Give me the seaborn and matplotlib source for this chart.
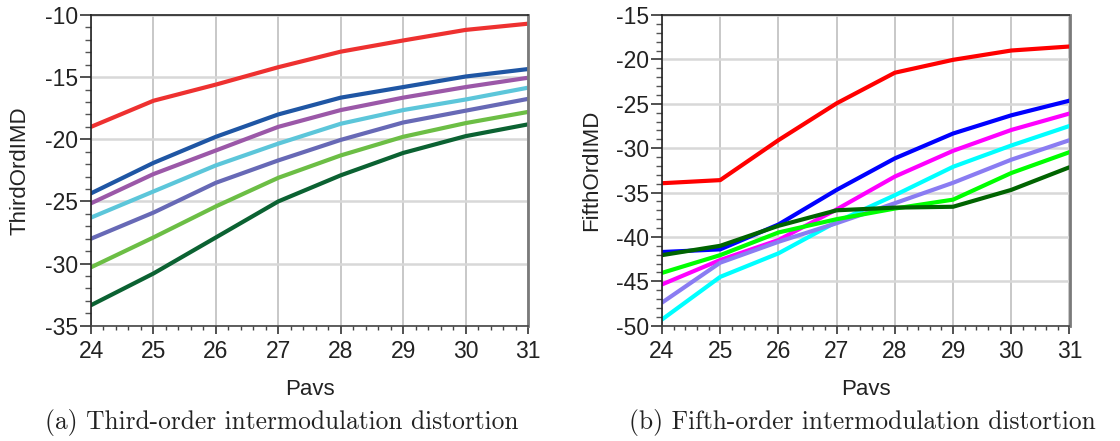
import numpy as np
import pandas as pd
import seaborn as sns
import matplotlib
matplotlib.use("Agg")
import matplotlib.pyplot as plt
from matplotlib.ticker import MultipleLocator

# Input power sweep (Pavs)
pavs = [24, 25, 26, 27, 28, 29, 30, 31]

# Third-order intermodulation distortion, one curve per bias condition
third_c1 = [-19.0, -16.9, -15.6, -14.2, -12.95, -12.05, -11.2, -10.7]
third_c2 = [-24.35, -21.9, -19.8, -18.0, -16.65, -15.8, -14.95, -14.35]
third_c3 = [-25.15, -22.8, -20.9, -19.0, -17.65, -16.65, -15.8, -15.05]
third_c4 = [-26.3, -24.2, -22.1, -20.35, -18.75, -17.65, -16.8, -15.85]
third_c5 = [-28.0, -25.9, -23.5, -21.7, -20.05, -18.65, -17.7, -16.75]
third_c6 = [-30.3, -27.9, -25.4, -23.1, -21.3, -19.8, -18.7, -17.8]
third_c7 = [-33.35, -30.8, -27.9, -25.0, -22.9, -21.1, -19.75, -18.8]

# Fifth-order intermodulation distortion, same bias conditions
fifth_c1 = [-33.95, -33.6, -29.1, -24.95, -21.5, -20.05, -19.0, -18.55]
fifth_c2 = [-41.7, -41.4, -38.6, -34.7, -31.15, -28.35, -26.3, -24.65]
fifth_c3 = [-45.35, -42.6, -40.35, -36.9, -33.2, -30.3, -27.95, -26.1]
fifth_c4 = [-49.3, -44.5, -41.85, -38.3, -35.3, -32.1, -29.7, -27.5]
fifth_c5 = [-47.4, -42.9, -40.55, -38.45, -36.2, -33.9, -31.3, -29.1]
fifth_c6 = [-44.05, -42.05, -39.5, -38.0, -36.8, -35.8, -32.8, -30.45]
fifth_c7 = [-42.05, -41.0, -38.75, -37.0, -36.7, -36.6, -34.7, -32.15]

curve_names = ["c1", "c2", "c3", "c4", "c5", "c6", "c7"]
third_series = [third_c1, third_c2, third_c3, third_c4, third_c5, third_c6, third_c7]
fifth_series = [fifth_c1, fifth_c2, fifth_c3, fifth_c4, fifth_c5, fifth_c6, fifth_c7]

third_colors = ["#ee3130", "#1f56a4", "#9b58a8", "#5cc6da", "#6769b6", "#6cbe45", "#0b6232"]
fifth_colors = ["#ff0000", "#0000ff", "#ff00ff", "#00ffff", "#8a7cf2", "#00ff00", "#006400"]


def long_form(series):
    rows = []
    for name, vals in zip(curve_names, series):
        for p, v in zip(pavs, vals):
            rows.append({"Pavs": p, "value": v, "curve": name})
    return pd.DataFrame(rows)


sns.set_theme(style="white")
plt.rcParams["font.family"] = ["Liberation Sans", "DejaVu Sans"]

fig = plt.figure(figsize=(11.2, 4.41), dpi=100)
ax1 = fig.add_axes([91 / 1120, 1 - 325.7 / 441, 437 / 1120, 310.7 / 441])
ax2 = fig.add_axes([662 / 1120, 1 - 325.7 / 441, 407.5 / 1120, 310.7 / 441])

TICK_FS = 16.5
LABEL_FS = 16


def style_axes(ax, ylim, ylabel):
    ax.set_xlim(24, 31)
    ax.set_ylim(*ylim)
    ax.set_xticks(pavs)
    ax.set_yticks(np.arange(ylim[0], ylim[1] + 1, 5))
    ax.xaxis.set_minor_locator(MultipleLocator(0.2))
    ax.yaxis.set_minor_locator(MultipleLocator(1))
    ax.grid(True, which="major", axis="x", color="#c4c4c4", linewidth=1.3)
    ax.grid(True, which="major", axis="y", color="#d8d8d8", linewidth=1.8)
    ax.set_axisbelow(True)
    ax.tick_params(axis="y", which="major", direction="out", length=8, width=1.2,
                   color="#333333", pad=1.5, labelsize=TICK_FS, labelcolor="#222222", left=True)
    ax.tick_params(axis="y", which="minor", direction="out", length=4, width=1.0,
                   color="#555555", left=True)
    ax.tick_params(axis="x", which="major", direction="out", length=6, width=1.2,
                   color="#333333", pad=4.5, labelsize=TICK_FS, labelcolor="#222222", bottom=True)
    ax.tick_params(axis="x", which="minor", direction="out", length=3, width=1.0,
                   color="#444444", bottom=True)
    ax.set_yticklabels([f"{int(v)}" for v in ax.get_yticks()])
    for side in ["left", "top"]:
        ax.spines[side].set_color("#222222")
        ax.spines[side].set_linewidth(1.2)
    ax.spines["bottom"].set_color("#444444")
    ax.spines["bottom"].set_linewidth(1.2)
    ax.spines["right"].set_color("#7a7a7a")
    ax.spines["right"].set_linewidth(2.0)
    ax.set_xlabel("Pavs", fontsize=LABEL_FS, color="#222222", labelpad=11)
    ax.set_ylabel(ylabel, fontsize=LABEL_FS, color="#222222", labelpad=10)


sns.lineplot(data=long_form(third_series), x="Pavs", y="value", hue="curve",
             palette=third_colors, linewidth=3.0, legend=False, ax=ax1)
sns.lineplot(data=long_form(fifth_series), x="Pavs", y="value", hue="curve",
             palette=fifth_colors, linewidth=3.0, legend=False, ax=ax2)

style_axes(ax1, (-35, -10), "ThirdOrdIMD")
style_axes(ax2, (-50, -15), "FifthOrdIMD")

cap_font = ["cmr10", "DejaVu Serif"]
fig.text(282 / 1120, 1 - 423 / 441, "(a) Third-order intermodulation distortion",
         ha="center", va="center", fontsize=18.3, family=cap_font, color="#222222")
fig.text(862 / 1120, 1 - 423 / 441, "(b) Fifth-order intermodulation distortion",
         ha="center", va="center", fontsize=18.3, family=cap_font, color="#222222")

fig.savefig("out.png", dpi=100)
